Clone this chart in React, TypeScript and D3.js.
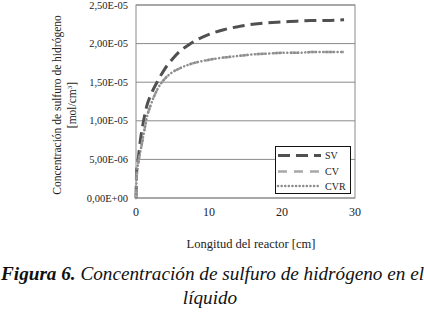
import React from "react";
import * as d3 from "d3";

const xValues = [0, 0.1, 0.3, 0.6, 1, 1.5, 2, 3, 4, 5, 6, 7, 8, 10, 12, 14, 16, 18, 20, 22, 24, 26, 28.5];
const svValues = [0, 0.35, 0.5, 0.75, 0.98, 1.2, 1.33, 1.52, 1.68, 1.8, 1.9, 1.97, 2.03, 2.12, 2.18, 2.22, 2.25, 2.27, 2.28, 2.29, 2.3, 2.3, 2.31];
const cvValues = [0, 0.3, 0.45, 0.6, 0.8, 1.05, 1.2, 1.42, 1.55, 1.63, 1.68, 1.72, 1.75, 1.79, 1.82, 1.84, 1.86, 1.87, 1.88, 1.88, 1.89, 1.89, 1.89];
const cvrValues = [0, 0.3, 0.45, 0.6, 0.8, 1.05, 1.2, 1.42, 1.55, 1.63, 1.68, 1.72, 1.75, 1.79, 1.82, 1.84, 1.86, 1.87, 1.88, 1.88, 1.89, 1.89, 1.89];
const yTicks = [0, 0.5, 1.0, 1.5, 2.0, 2.5];
const yTickLabels = ["0,00E+00", "5,00E-06", "1,00E-05", "1,50E-05", "2,00E-05", "2,50E-05"];
const xTicks = [0, 10, 20, 30];
const seriesNames = ["SV", "CV", "CVR"];

const serif = "'Liberation Serif', 'Times New Roman', serif";

export default function App() {
  const left = 136, right = 355, top = 5, bottom = 198;
  const x = d3.scaleLinear().domain([0, 30]).range([left, right]);
  const y = d3.scaleLinear().domain([0, 2.5]).range([bottom, top]);
  const line = (vals: number[]) =>
    d3.line<number>().x((_, i) => x(xValues[i])).y((v) => y(v)).curve(d3.curveMonotoneX)(vals) || "";

  const styles = [
    { stroke: "#505050", width: 3, dash: "12,6", cap: "butt" },
    { stroke: "#a8a8a8", width: 2.5, dash: "9,8", cap: "butt" },
    { stroke: "#8c8c8c", width: 2.5, dash: "0.1,3.5", cap: "round" },
  ];
  const series = [svValues, cvValues, cvrValues];
  const legendY = [155.5, 171.5, 186];

  return (
    <svg width={424} height={312} style={{ position: "absolute", left: 0, top: 0, background: "#fff" }}>
      <rect x={0} y={0} width={424} height={312} fill="#fff" />
      {yTicks.map((t) => (
        <line key={t} x1={left} x2={right} y1={y(t)} y2={y(t)} stroke="#8a8a8a" strokeWidth={1} />
      ))}
      <rect x={left} y={top} width={right - left} height={bottom - top} fill="none" stroke="#8a8a8a" strokeWidth={1} />
      {yTicks.map((t, i) => (
        <text key={t} x={128} y={y(t) + 3.5} textAnchor="end" fontFamily={serif} fontSize={10.5} fill="#222">
          {yTickLabels[i]}
        </text>
      ))}
      {xTicks.map((t) => (
        <text key={t} x={x(t)} y={216} textAnchor="middle" fontFamily={serif} fontSize={12} fill="#222">
          {t}
        </text>
      ))}
      <text transform="translate(61,105) rotate(-90)" textAnchor="middle" fontFamily={serif} fontSize={11.5} fill="#222">
        Concentración de sulfuro de hidrógeno
      </text>
      <text transform="translate(76,105) rotate(-90)" textAnchor="middle" fontFamily={serif} fontSize={11.5} fill="#222">
        [mol/cm<tspan dy={-4} fontSize={7}>3</tspan><tspan dy={4}>]</tspan>
      </text>
      <text x={251} y={248} textAnchor="middle" fontFamily={serif} fontSize={12.5} fill="#222">
        Longitud del reactor [cm]
      </text>
      {series.map((s, i) => (
        <path
          key={i}
          d={line(s)}
          fill="none"
          stroke={styles[i].stroke}
          strokeWidth={styles[i].width}
          strokeDasharray={styles[i].dash}
          strokeLinecap={styles[i].cap as any}
        />
      ))}
      <rect x={275.5} y={146.5} width={75} height={47} fill="#fff" stroke="#111" strokeWidth={1} />
      {seriesNames.map((n, i) => (
        <g key={n}>
          <line
            x1={278}
            x2={321}
            y1={legendY[i]}
            y2={legendY[i]}
            stroke={styles[i].stroke}
            strokeWidth={styles[i].width}
            strokeDasharray={i === 0 ? "12,6" : i === 1 ? "9,7" : styles[i].dash}
            strokeLinecap={styles[i].cap as any}
          />
          <text x={325} y={legendY[i] + 3.5} fontFamily={serif} fontSize={10} fill="#222">
            {n}
          </text>
        </g>
      ))}
      <text x={212.5} y={280} textAnchor="middle" fontFamily={serif} fontSize={19.2} fontStyle="italic" fill="#111">
        <tspan fontWeight="bold">Figura 6.</tspan> Concentración de sulfuro de hidrógeno en el
      </text>
      <text x={210} y={304} textAnchor="middle" fontFamily={serif} fontSize={19.2} fontStyle="italic" fill="#111">
        líquido
      </text>
    </svg>
  );
}
